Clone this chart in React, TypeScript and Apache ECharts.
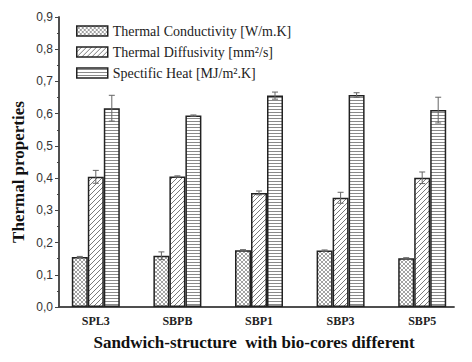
import React, { useEffect, useRef } from "react";
import * as echarts from "echarts";

const categories = ["SPL3", "SBPB", "SBP1", "SBP3", "SBP5"];
const conductivity = [0.155, 0.159, 0.176, 0.175, 0.151];
const conductivityErr = [0.002, 0.012, 0.002, 0.002, 0.002];
const diffusivity = [0.404, 0.405, 0.354, 0.339, 0.401];
const diffusivityErr = [0.02, 0.002, 0.006, 0.017, 0.018];
const specificHeat = [0.617, 0.594, 0.656, 0.658, 0.611];
const specificHeatErr = [0.04, 0.002, 0.011, 0.007, 0.04];
const seriesNames = [
  "Thermal Conductivity [W/m.K]",
  "Thermal Diffusivity [mm²/s]",
  "Spectific Heat [MJ/m².K]",
];
const yTicks = [0, 0.1, 0.2, 0.3, 0.4, 0.5, 0.6, 0.7, 0.8, 0.9];

const BAR_W = 16;

function makeCanvas(w: number, h: number, draw: (c: CanvasRenderingContext2D) => void) {
  const cv = document.createElement("canvas");
  cv.width = w;
  cv.height = h;
  const ctx = cv.getContext("2d")!;
  ctx.fillStyle = "#ffffff";
  ctx.fillRect(0, 0, w, h);
  draw(ctx);
  return cv;
}

export default function App() {
  const ref = useRef<HTMLDivElement>(null);
  useEffect(() => {
    document.body.style.margin = "0";
    const chart = echarts.init(ref.current!, null, { renderer: "svg" });

    const cross = makeCanvas(4, 4, (c) => {
      c.strokeStyle = "#8a8a8a";
      c.lineWidth = 0.8;
      c.beginPath();
      c.moveTo(0, 0); c.lineTo(4, 4);
      c.moveTo(4, 0); c.lineTo(0, 4);
      c.stroke();
    });
    const diag = makeCanvas(5, 5, (c) => {
      c.strokeStyle = "#7a7a7a";
      c.lineWidth = 1;
      c.beginPath();
      c.moveTo(-1, 6); c.lineTo(6, -1);
      c.moveTo(-1, 1); c.lineTo(1, -1);
      c.moveTo(4, 6); c.lineTo(6, 4);
      c.stroke();
    });
    const horiz = makeCanvas(4, 3, (c) => {
      c.strokeStyle = "#8a8a8a";
      c.lineWidth = 1;
      c.beginPath();
      c.moveTo(0, 1.5); c.lineTo(4, 1.5);
      c.stroke();
    });
    const patterns = [cross, diag, horiz];
    const values = [conductivity, diffusivity, specificHeat];
    const errs = [conductivityErr, diffusivityErr, specificHeatErr];
    const offsets = [-BAR_W, 0, BAR_W];

    const barSeries = values.map((vals, i) => ({
      name: seriesNames[i],
      type: "bar",
      xAxisIndex: 0,
      yAxisIndex: 0,
      barWidth: BAR_W,
      barGap: "0%",
      data: vals,
      itemStyle: {
        color: { image: patterns[i], repeat: "repeat" },
        borderColor: "#222",
        borderWidth: 1.5,
      },
      z: 2,
    }));

    const errSeries = values.map((vals, i) => ({
      type: "custom",
      xAxisIndex: 0,
      yAxisIndex: 0,
      silent: true,
      z: 5,
      encode: { x: 0, y: 1 },
      data: vals.map((v, k) => [k, v, errs[i][k]]),
      renderItem: (params: any, api: any) => {
        const k = api.value(0);
        const v = api.value(1);
        const e = api.value(2);
        const top = api.coord([k, v + e]);
        const bot = api.coord([k, v - e]);
        const x = top[0] + offsets[i];
        const cap = 3;
        const style = { stroke: "#666", lineWidth: 1 };
        return {
          type: "group",
          children: [
            { type: "line", shape: { x1: x, y1: top[1], x2: x, y2: bot[1] }, style },
            { type: "line", shape: { x1: x - cap, y1: top[1], x2: x + cap, y2: top[1] }, style },
            { type: "line", shape: { x1: x - cap, y1: bot[1], x2: x + cap, y2: bot[1] }, style },
          ],
        };
      },
    }));

    chart.setOption({
      animation: false,
      backgroundColor: "#ffffff",
      legend: {
        orient: "vertical",
        left: 71,
        top: 19,
        itemWidth: 31,
        itemHeight: 10,
        itemGap: 7,
        icon: "rect",
        data: seriesNames,
        selectedMode: false,
        itemStyle: { borderColor: "#222", borderWidth: 1.5 },
        textStyle: {
          fontFamily: "Liberation Serif",
          fontSize: 14,
          lineHeight: 14,
          color: "#222",
        },
      },
      grid: [
        { left: 55, right: 9, top: 17, bottom: 55 },
        { left: 59, right: 18, top: 17, bottom: 55 },
      ],
      xAxis: [
        {
          type: "category",
          gridIndex: 0,
          data: categories,
          axisLine: { show: false },
          axisTick: { show: false },
          axisLabel: {
            margin: 8,
            fontFamily: "Liberation Serif",
            fontWeight: "bold",
            fontSize: 12,
            color: "#222",
          },
        },
        {
          type: "value",
          gridIndex: 1,
          position: "bottom",
          min: 0,
          max: 1,
          axisLine: { show: true, lineStyle: { color: "#444", width: 1.5 } },
          axisTick: { show: false },
          axisLabel: { show: false },
          splitLine: { show: false },
        },
        {
          type: "value",
          gridIndex: 1,
          position: "top",
          min: 0,
          max: 1,
          axisLine: { show: true, lineStyle: { color: "#444", width: 1.5 } },
          axisTick: { show: false },
          axisLabel: { show: false },
          splitLine: { show: false },
        },
      ],
      yAxis: [
        {
          type: "value",
          gridIndex: 0,
          min: 0,
          max: 0.9,
          interval: 0.1,
          show: false,
        },
        {
          type: "value",
          gridIndex: 1,
          position: "left",
          min: 0,
          max: 0.9,
          interval: 0.1,
          axisLine: { show: true, lineStyle: { color: "#444", width: 1.5 } },
          axisTick: { show: true, length: 4, lineStyle: { color: "#444", width: 1 } },
          minorTick: { show: true, splitNumber: 2, length: 2, lineStyle: { color: "#444", width: 1 } },
          splitLine: { show: false },
          axisLabel: {
            margin: 6,
            fontFamily: "Liberation Sans",
            fontSize: 12,
            color: "#333",
            formatter: (v: number) => {
              const t = yTicks.find((x) => Math.abs(x - v) < 1e-6);
              return (t !== undefined ? t : v).toFixed(1).replace(".", ",");
            },
          },
        },
        {
          type: "value",
          gridIndex: 1,
          position: "right",
          min: 0,
          max: 0.9,
          axisLine: { show: true, lineStyle: { color: "#444", width: 1.5 } },
          axisTick: { show: false },
          axisLabel: { show: false },
          splitLine: { show: false },
        },
      ],
      graphic: [
        {
          type: "text",
          x: 18,
          y: 172,
          rotation: Math.PI / 2,
          style: {
            text: "Thermal properties",
            fontFamily: "Liberation Serif",
            fontWeight: "bold",
            fontSize: 17,
            fill: "#111",
            align: "center",
            verticalAlign: "middle",
          },
        },
        {
          type: "text",
          x: 254,
          y: 342,
          style: {
            text: "Sandwich-structure  with bio-cores different",
            fontFamily: "Liberation Serif",
            fontWeight: "bold",
            fontSize: 17,
            fill: "#111",
            align: "center",
            verticalAlign: "middle",
          },
        },
      ],
      series: [...barSeries, ...errSeries],
    });
    return () => chart.dispose();
  }, []);
  return (
    <div
      ref={ref}
      style={{ position: "fixed", left: 0, top: 0, width: 472, height: 362, background: "#fff" }}
    />
  );
}
